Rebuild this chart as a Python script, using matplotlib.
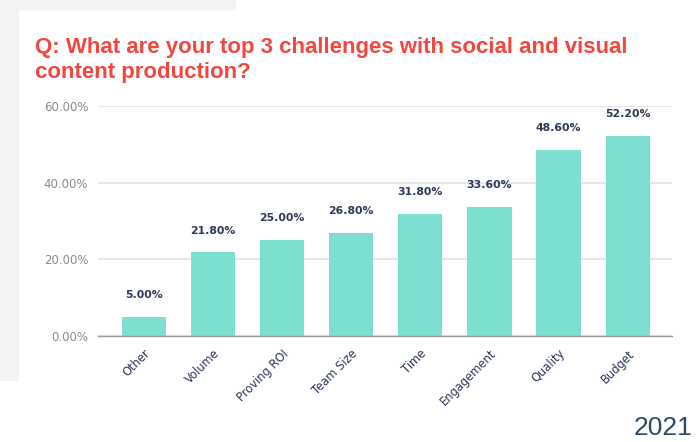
import matplotlib
import numpy as np
from matplotlib import pyplot as plt
from matplotlib.patches import Rectangle
from matplotlib.transforms import ScaledTranslation

matplotlib.use("Agg")

categories = ["Other", "Volume", "Proving ROI", "Team Size", "Time", "Engagement", "Quality", "Budget"]
values = [5.00, 21.80, 25.00, 26.80, 31.80, 33.60, 48.60, 52.20]
y_ticks = [0, 20, 40, 60]

TITLE = "Q: What are your top 3 challenges with social and visual\ncontent production?"
BAR_COLOR = "#7ddfcf"
NAVY = "#2c3857"

plt.rcParams["font.family"] = ["Liberation Sans", "DejaVu Sans"]

fig = plt.figure(figsize=(6.96, 4.42), dpi=100)
fig.patch.set_facecolor("white")

# grey page behind the white card
fig.patches.append(Rectangle((0, 0.14), 18 / 696, 0.86, transform=fig.transFigure,
                             color="#f3f3f3", zorder=0))
fig.patches.append(Rectangle((0, 1 - 9 / 442), 235 / 696, 9 / 442, transform=fig.transFigure,
                             color="#f3f3f3", zorder=0))

ax = fig.add_axes([98 / 696, 1 - 336 / 442, (672 - 98) / 696, (336 - 106) / 442])
x = np.arange(len(categories))
bars = ax.bar(x, values, width=0.64, color=BAR_COLOR, zorder=3)

for xi, v in zip(x, values):
    ax.text(xi, v + 4.4, f"{v:.2f}%", ha="center", va="bottom", family="DejaVu Sans",
            fontsize=7.8, fontweight="bold", color=NAVY)

ax.set_ylim(0, 60)
ax.set_xlim(-0.66, len(categories) - 0.36)
ax.set_yticks(y_ticks)
ax.set_yticklabels([f"{t:.2f}%" for t in y_ticks], fontsize=8.5, color="#8a8a8a",
                   family="DejaVu Sans")
ax.set_xticks(x)
ax.set_xticklabels(categories, rotation=45, ha="right", rotation_mode="anchor",
                   fontsize=8.3, color=NAVY, family="DejaVu Sans")
shift = ScaledTranslation(8 / 100, 0, fig.dpi_scale_trans)
for lbl in ax.get_xticklabels():
    lbl.set_transform(lbl.get_transform() + shift)
ax.tick_params(axis="both", length=0)
ax.tick_params(axis="y", pad=7)
ax.tick_params(axis="x", pad=8)

ax.grid(axis="y", color="#e2e2e2", linewidth=1.2, zorder=0)
for side in ["top", "right", "left"]:
    ax.spines[side].set_visible(False)
ax.spines["bottom"].set_color("#9a9a9a")
ax.spines["bottom"].set_linewidth(1.0)
ax.spines["bottom"].set_zorder(4)

fig.text(35 / 696, 1 - 37 / 442, TITLE, ha="left", va="top", fontsize=16,
         fontweight="bold", color="#f2473f", linespacing=1.22)
fig.text(692 / 696, 1 - 440 / 442, "2021", ha="right", va="bottom", fontsize=19,
         color="#2b4a6b")

fig.savefig("out.png", dpi=100)
